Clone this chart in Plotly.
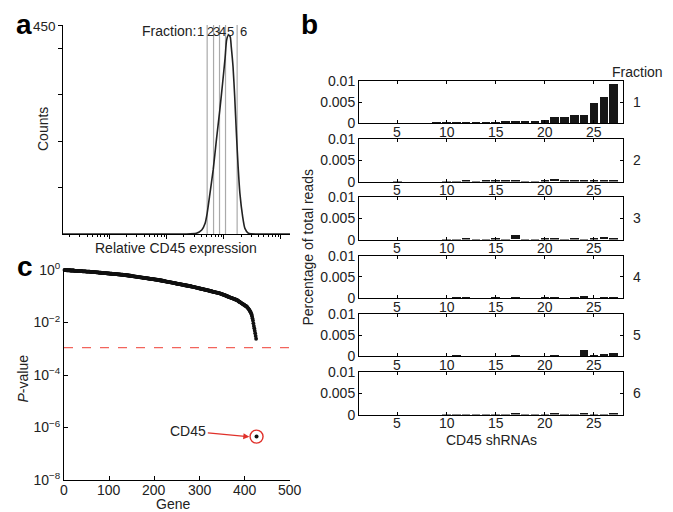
import plotly.graph_objects as go

FONT = "Liberation Sans, Arial, Helvetica, sans-serif"
W, H = 673, 512


def px(x):
    return x / W


def py(y):
    return 1 - y / H


# ---------------- panel a : CD45 expression histogram ----------------
expression = [0.151, 20, 33, 41, 47, 51, 56, 65, 74, 85, 95, 105, 112, 120, 129,
              135, 145, 155, 166, 178, 191, 214, 234, 269, 400, 1445]
counts = [0, 0, 1.5, 8.6, 23, 44.5, 80, 138, 202, 267, 324, 378, 418, 428, 425,
          403, 360, 296, 217, 145, 88, 37, 12, 1.5, 0, 0]
gates = [51, 66, 84, 107, 171]
fraction_labels = ["1", "2", "3", "4", "5", "6"]

# ---------------- panel b : shRNA read percentages ----------------
shrna = list(range(1, 28))
frac1 = [0.00005, 0.00005, 0.00005, 0.00005, 0.00005, 0.00005, 0.00005, 0.00005, 0.00008, 0.0001,
         0.00015, 0.0002, 0.00025, 0.0003, 0.0004, 0.00045, 0.0005, 0.0006, 0.0006, 0.0007,
         0.0014, 0.0016, 0.002, 0.002, 0.0047, 0.0063, 0.0093]
frac2 = [0, 0, 0, 0, 0.00002, 0, 0, 0, 0, 0.00005,
         0.00003, 0.0003, 0.00005, 0.0001, 0.0003, 0.0001, 0.0004, 0.00005, 0.00005, 0.0002,
         0.0006, 0.0001, 0.0003, 0.0001, 0.0002, 0.0004, 0.0001]
frac3 = [0, 0, 0, 0, 0, 0, 0, 0, 0, 0.00003,
         0.00003, 0.0002, 0.00003, 0.00005, 0.0003, 0.00005, 0.001, 0.00003, 0.00003, 0.0001,
         0.0004, 0.00005, 0.0002, 0.00005, 0.0001, 0.0005, 0.0001]
frac4 = [0, 0, 0, 0, 0, 0, 0, 0, 0, 0.00003,
         0.0001, 0.0004, 0.00003, 0.00005, 0.0002, 0.00005, 0.0003, 0.00003, 0.00003, 0.0001,
         0.0003, 0.00005, 0.0001, 0.0005, 0.00005, 0.0001, 0.0003]
frac5 = [0, 0, 0, 0, 0, 0, 0, 0, 0, 0.00003,
         0.0001, 0.00005, 0.00003, 0.00003, 0.00005, 0.00003, 0.0002, 0.00003, 0.00003, 0.00005,
         0.0002, 0.00003, 0.00005, 0.0016, 0.0001, 0.0005, 0.0007]
frac6 = [0, 0, 0, 0, 0, 0, 0, 0, 0, 0.00002,
         0.00005, 0.00005, 0.00002, 0.00002, 0.00003, 0.00002, 0.0002, 0.00002, 0.00002, 0.00003,
         0.0001, 0.00002, 0.00003, 0.0003, 0.00003, 0.00003, 0.0002]
fractions = [frac1, frac2, frac3, frac4, frac5, frac6]
b_xticks = [5, 10, 15, 20, 25]

# ---------------- panel c : gene P-values (-log10), sorted ----------------
neg_log10_p = [
    0.00, 0.00, 0.00, 0.00, 0.00, 0.01, 0.01, 0.01, 0.01, 0.01, 0.01, 0.01, 0.01, 0.02, 0.02, 0.02, 0.02, 0.02, 0.02, 0.02,
    0.02, 0.02, 0.03, 0.03, 0.03, 0.03, 0.03, 0.03, 0.03, 0.03, 0.03, 0.04, 0.04, 0.04, 0.04, 0.04, 0.04, 0.04, 0.04, 0.04,
    0.05, 0.05, 0.05, 0.05, 0.05, 0.05, 0.05, 0.05, 0.06, 0.06, 0.06, 0.06, 0.06, 0.06, 0.06, 0.06, 0.06, 0.07, 0.07, 0.07,
    0.07, 0.07, 0.07, 0.07, 0.07, 0.08, 0.08, 0.08, 0.08, 0.08, 0.09, 0.09, 0.09, 0.09, 0.09, 0.09, 0.10, 0.10, 0.10, 0.10,
    0.10, 0.10, 0.11, 0.11, 0.11, 0.11, 0.11, 0.11, 0.12, 0.12, 0.12, 0.12, 0.12, 0.12, 0.13, 0.13, 0.13, 0.13, 0.13, 0.13,
    0.14, 0.14, 0.14, 0.14, 0.14, 0.14, 0.15, 0.15, 0.15, 0.15, 0.15, 0.15, 0.16, 0.16, 0.16, 0.16, 0.16, 0.16, 0.17, 0.17,
    0.17, 0.17, 0.17, 0.17, 0.18, 0.18, 0.18, 0.18, 0.18, 0.18, 0.19, 0.19, 0.19, 0.19, 0.19, 0.19, 0.20, 0.20, 0.20, 0.20,
    0.21, 0.21, 0.21, 0.21, 0.22, 0.22, 0.22, 0.22, 0.23, 0.23, 0.23, 0.23, 0.24, 0.24, 0.24, 0.24, 0.25, 0.25, 0.25, 0.25,
    0.26, 0.26, 0.26, 0.27, 0.27, 0.27, 0.27, 0.28, 0.28, 0.28, 0.28, 0.29, 0.29, 0.29, 0.29, 0.30, 0.30, 0.30, 0.30, 0.31,
    0.31, 0.31, 0.31, 0.32, 0.32, 0.32, 0.32, 0.33, 0.33, 0.33, 0.34, 0.34, 0.34, 0.34, 0.35, 0.35, 0.35, 0.35, 0.36, 0.36,
    0.36, 0.36, 0.37, 0.37, 0.37, 0.37, 0.38, 0.38, 0.38, 0.38, 0.39, 0.39, 0.39, 0.40, 0.40, 0.40, 0.41, 0.41, 0.41, 0.42,
    0.42, 0.42, 0.43, 0.43, 0.43, 0.44, 0.44, 0.44, 0.45, 0.45, 0.45, 0.46, 0.46, 0.46, 0.47, 0.47, 0.47, 0.48, 0.48, 0.48,
    0.49, 0.49, 0.49, 0.50, 0.50, 0.50, 0.51, 0.51, 0.52, 0.52, 0.52, 0.53, 0.53, 0.53, 0.54, 0.54, 0.54, 0.55, 0.55, 0.55,
    0.56, 0.56, 0.56, 0.57, 0.57, 0.57, 0.58, 0.58, 0.58, 0.59, 0.59, 0.59, 0.60, 0.60, 0.60, 0.61, 0.61, 0.61, 0.62, 0.62,
    0.62, 0.63, 0.63, 0.63, 0.64, 0.64, 0.64, 0.65, 0.65, 0.66, 0.66, 0.67, 0.67, 0.67, 0.68, 0.68, 0.69, 0.69, 0.70, 0.70,
    0.70, 0.71, 0.71, 0.72, 0.72, 0.72, 0.73, 0.73, 0.74, 0.74, 0.75, 0.75, 0.75, 0.76, 0.76, 0.77, 0.77, 0.78, 0.78, 0.78,
    0.79, 0.79, 0.80, 0.80, 0.81, 0.81, 0.81, 0.82, 0.82, 0.83, 0.83, 0.84, 0.84, 0.84, 0.85, 0.85, 0.86, 0.86, 0.86, 0.87,
    0.87, 0.88, 0.88, 0.89, 0.89, 0.90, 0.90, 0.91, 0.92, 0.92, 0.93, 0.94, 0.94, 0.95, 0.96, 0.96, 0.97, 0.98, 0.98, 0.99,
    1.00, 1.01, 1.01, 1.02, 1.03, 1.03, 1.04, 1.05, 1.05, 1.06, 1.07, 1.07, 1.08, 1.09, 1.09, 1.10, 1.11, 1.11, 1.12, 1.13,
    1.13, 1.14,
    1.15, 1.16, 1.17, 1.19, 1.20, 1.21, 1.22, 1.23, 1.24, 1.25, 1.27, 1.28, 1.29, 1.30, 1.31, 1.32, 1.33, 1.35, 1.36, 1.37,
    1.38, 1.39,
    1.41, 1.43, 1.45, 1.47, 1.50, 1.52, 1.55, 1.58, 1.61, 1.65, 1.70,
    1.76, 1.84, 1.92, 2.03, 2.13, 2.22, 2.31, 2.41, 2.51, 2.62,
]
genes = list(range(1, len(neg_log10_p) + 1))
pvals = [10 ** (-v) for v in neg_log10_p]
cd45_gene = 426
cd45_p = 4.5e-7
threshold = 1.1e-3
c_xticks = [0, 100, 200, 300, 400, 500]

fig = go.Figure()

# ---- panel a traces
for g in gates:
    fig.add_trace(go.Scatter(x=[g, g], y=[0, 450], mode="lines", xaxis="x", yaxis="y",
                             line=dict(color="#aaaaaa", width=1.2), hoverinfo="skip"))
fig.add_trace(go.Scatter(x=expression, y=counts, mode="lines", xaxis="x", yaxis="y",
                         line=dict(color="#222222", width=1.6, shape="spline", smoothing=0.6),
                         cliponaxis=False))

# ---- panel c traces
fig.add_trace(go.Scatter(x=[0, 500], y=[threshold, threshold], mode="lines", xaxis="x2", yaxis="y2",
                         line=dict(color="#f2645c", width=1.1, dash="dash")))
fig.add_trace(go.Scatter(x=genes, y=pvals, mode="markers", xaxis="x2", yaxis="y2",
                         marker=dict(size=3.8, color="#111111"), cliponaxis=False))
fig.add_trace(go.Scatter(x=[cd45_gene], y=[cd45_p], mode="markers", xaxis="x2", yaxis="y2",
                         marker=dict(size=13, symbol="circle-open", color="#e0302a",
                                     line=dict(width=1.4, color="#e0302a"))))
fig.add_trace(go.Scatter(x=[cd45_gene], y=[cd45_p], mode="markers", xaxis="x2", yaxis="y2",
                         marker=dict(size=4, color="#111111")))

# ---- panel b traces
b_tops = [81, 139.3, 197.3, 255.7, 314, 372.3]
b_h = 42.3
for i, vals in enumerate(fractions):
    n = i + 3
    fig.add_trace(go.Bar(x=shrna, y=vals, xaxis=f"x{n}", yaxis=f"y{n}", width=0.86,
                         marker=dict(color="#161616", line=dict(width=0))))

axis_font = dict(family=FONT, size=14, color="#222222")
layout = dict(
    template="none",
    width=W, height=H, margin=dict(l=0, r=0, t=0, b=0, pad=0), autosize=False,
    paper_bgcolor="white", plot_bgcolor="rgba(0,0,0,0)",
    showlegend=False, bargap=0,
    font=axis_font,
)

common = dict(automargin=False, showgrid=False, zeroline=False, showline=True,
              linecolor="black", linewidth=1, tickcolor="black", tickwidth=1,
              tickfont=dict(family=FONT, size=14, color="#222222"))

minor_vals = [m * 10 ** k for k in range(-1, 4) for m in range(2, 10)]
layout["xaxis"] = dict(common, domain=[px(63), px(290)], anchor="y", type="log", range=[-0.82, 3.16],
                       ticks="outside", ticklen=4, tickvals=[1, 10, 100, 1000],
                       showticklabels=False,
                       minor=dict(tickvals=minor_vals, ticks="outside", ticklen=2, tickcolor="black",
                                  showgrid=False))
layout["yaxis"] = dict(common, domain=[py(234), py(25)], anchor="x", range=[0, 450],
                       ticks="outside", ticklen=4, showticklabels=False,
                       tickvals=[100, 200, 300, 400, 450])

layout["xaxis2"] = dict(common, domain=[px(64), px(290)], anchor="y2", range=[0, 500],
                        ticks="inside", ticklen=4, showticklabels=False, tickvals=c_xticks)
layout["yaxis2"] = dict(common, domain=[py(480), py(270)], anchor="x2", type="log", range=[-8, 0],
                        ticks="inside", ticklen=4,
                        tickvals=[1e-8, 1e-6, 1e-4, 1e-2, 1],
                        ticktext=["10<sup>−8</sup>", "10<sup>−6</sup>", "10<sup>−4</sup>",
                                  "10<sup>−2</sup>", "10<sup>0</sup>"])

for i, top in enumerate(b_tops):
    n = i + 3
    layout[f"xaxis{n}"] = dict(common, domain=[px(359), px(623)], anchor=f"y{n}", range=[1.1, 27.95],
                               mirror="ticks", ticks="inside", ticklen=3, showticklabels=False,
                               tickvals=b_xticks)
    layout[f"yaxis{n}"] = dict(common, domain=[py(top + b_h), py(top)], anchor=f"x{n}", range=[0, 0.01],
                               mirror="ticks", ticks="inside", ticklen=3,
                               tickvals=[0, 0.005, 0.01], ticktext=["0", "0.005", "0.01"])

annotations = []


def text(x, y, s, size=14, angle=0, xanchor="center", yanchor="middle", bold=False):
    annotations.append(dict(xref="paper", yref="paper", x=px(x), y=py(y), text=s, showarrow=False,
                            textangle=angle, xanchor=xanchor, yanchor=yanchor,
                            font=dict(family=FONT, size=size, color="black" if bold else "#222222")))


def xtick_label(axis, value, y):
    annotations.append(dict(xref=axis, yref="paper", x=value, y=py(y), text=str(value),
                            showarrow=False, xanchor="center", yanchor="middle",
                            font=dict(family=FONT, size=14, color="#222222")))


# panel letters
text(14, 24, "<b>a</b>", size=28, xanchor="left", bold=True)
text(299, 24, "<b>b</b>", size=28, xanchor="left", bold=True)
text(15, 266, "<b>c</b>", size=28, xanchor="left", bold=True)

# panel a texts
text(57.5, 26.5, "450", xanchor="right", size=13.5)
text(197.5, 31, "Fraction:", xanchor="right")
for lab, xx in zip(fraction_labels, [200.7, 210.7, 216.7, 222.7, 230, 243.3]):
    text(xx, 31, lab, size=13)
text(42.5, 129.5, "Counts", angle=-90)
text(175.5, 248.3, "Relative CD45 expression")

# panel c texts
for v in c_xticks:
    xtick_label("x2", v, 489.5)
text(22.5, 379, "<i>P</i>-value", angle=-90)
text(173, 503.5, "Gene")
annotations.append(dict(xref="x2", yref="y2", x=410, y=-6.35, text="CD45", showarrow=True,
                        ax=-61, ay=-5.5, arrowhead=2, arrowsize=1, arrowwidth=1.2,
                        arrowcolor="#e0302a", standoff=0,
                        font=dict(family=FONT, size=14, color="#222222")))

# panel b texts
for i, top in enumerate(b_tops):
    for v in b_xticks:
        xtick_label(f"x{i + 3}", v, top + b_h + 8.6)
text(307.5, 248, "Percentage of total reads", angle=-90)
text(491, 439.5, "CD45 shRNAs")
text(637, 71.5, "Fraction")
for i, top in enumerate(b_tops):
    text(637, top + b_h / 2, str(i + 1))

layout["annotations"] = annotations
fig.update_layout(**layout)
fig.write_html("out.html", config={"displayModeBar": False},
               post_script="document.body.style.margin='0';document.body.style.padding='0';")
